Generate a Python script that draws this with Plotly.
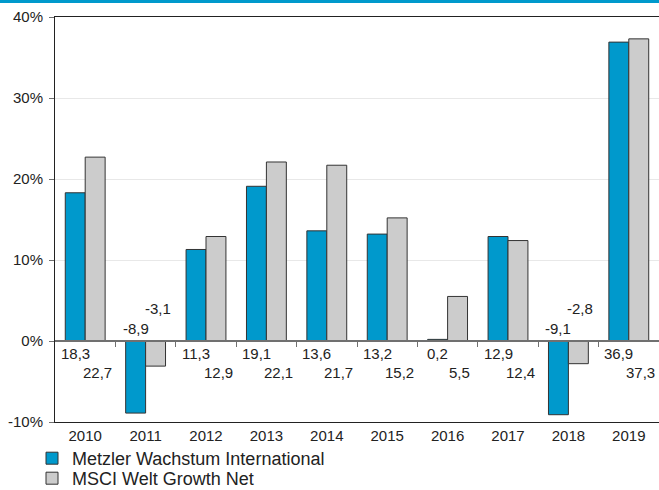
import plotly.graph_objects as go

years = ["2010", "2011", "2012", "2013", "2014", "2015", "2016", "2017", "2018", "2019"]
metzler = [18.3, -8.9, 11.3, 19.1, 13.6, 13.2, 0.2, 12.9, -9.1, 36.9]
msci = [22.7, -3.1, 12.9, 22.1, 21.7, 15.2, 5.5, 12.4, -2.8, 37.3]
name_metzler = "Metzler Wachstum International"
name_msci = "MSCI Welt Growth Net"
y_ticks = [-10, 0, 10, 20, 30, 40]
y_ticktext = [f"{v}%" for v in y_ticks]

BLUE = "#0099cc"
GREY = "#cccccc"
EDGE = "#333333"
TXT = "#222222"
FONT = "Liberation Sans, Arial, sans-serif"

W, H = 659, 490
ML, MR, MT, MB = 55, 0, 17, 68
PH = H - MT - MB
PW = W - ML - MR

n = len(years)
idx = list(range(n))
boundaries = [i + 0.5 for i in range(n - 1)]
y_min, y_max = y_ticks[0], y_ticks[-1]

fig = go.Figure()
fig.add_bar(x=years, y=metzler, name=name_metzler, legend="legend",
            marker=dict(color=BLUE, line=dict(color=EDGE, width=1)))
fig.add_bar(x=years, y=msci, name=name_msci, legend="legend2",
            marker=dict(color=GREY, line=dict(color=EDGE, width=1)))
# invisible trace carrying the zero-line axis with boundary ticks
fig.add_scatter(x=idx, y=[None] * n, xaxis="x2", showlegend=False,
                hoverinfo="skip", mode="markers")

def fmt(v):
    return f"{v:.1f}".replace(".", ",")

for i, (a, b) in enumerate(zip(metzler, msci)):
    for v, xs, line in ((a, -10, 1), (b, 12, 2)):
        if v >= 0:
            ys = -12 if line == 1 else -31
        else:
            ys = 13 if line == 1 else 33
        fig.add_annotation(x=i, y=0, xref="x", yref="y", text=fmt(v), showarrow=False,
                           xshift=xs, yshift=ys,
                           font=dict(size=15, color=TXT, family=FONT))

legend_common = dict(orientation="v", xanchor="left", yanchor="top",
                     font=dict(size=18, color=TXT, family=FONT),
                     bgcolor="rgba(0,0,0,0)")

fig.update_layout(
    width=W, height=H,
    margin=dict(l=ML, r=MR, t=MT, b=MB, autoexpand=False),
    paper_bgcolor="white", plot_bgcolor="white",
    font=dict(family=FONT, size=15, color=TXT),
    barmode="group", bargap=0.34, bargroupgap=0,
    showlegend=True,
    legend=dict(x=-23 / PW, y=-18 / PH, **legend_common),
    legend2=dict(x=-23 / PW, y=-38 / PH, **legend_common),
    xaxis=dict(type="category", categoryarray=years, range=[-0.5, n - 0.5],
               showline=True, linecolor=TXT, linewidth=1, mirror=True,
               ticks="", showgrid=False, tickfont=dict(size=15, color=TXT)),
    xaxis2=dict(range=[-0.5, n - 0.5], overlaying="x", anchor="free",
                position=(0 - y_min) / (y_max - y_min),
                side="bottom", showline=True, linecolor="#707070", linewidth=1.5,
                ticks="outside", ticklen=5, tickcolor="#707070", tickwidth=1,
                tickvals=boundaries, showticklabels=False, showgrid=False,
                zeroline=False),
    yaxis=dict(range=[y_min, y_max], tickvals=y_ticks, ticktext=y_ticktext,
               showline=True, linecolor=TXT, linewidth=1,
               ticks="outside", ticklen=5, tickcolor="#707070",
               ticklabelstandoff=3,
               showgrid=True, gridcolor="#e8e8e8", gridwidth=1, zeroline=False,
               tickfont=dict(size=15, color=TXT)),
    shapes=[dict(type="rect", xref="paper", yref="paper",
                 x0=-ML / PW, x1=1, y0=1 + (MT - 3) / PH, y1=1 + MT / PH,
                 fillcolor=BLUE, line=dict(width=0), layer="above")],
)

fig.write_html("out.html", config={"displayModeBar": False},
               post_script="document.body.style.margin='0';")
